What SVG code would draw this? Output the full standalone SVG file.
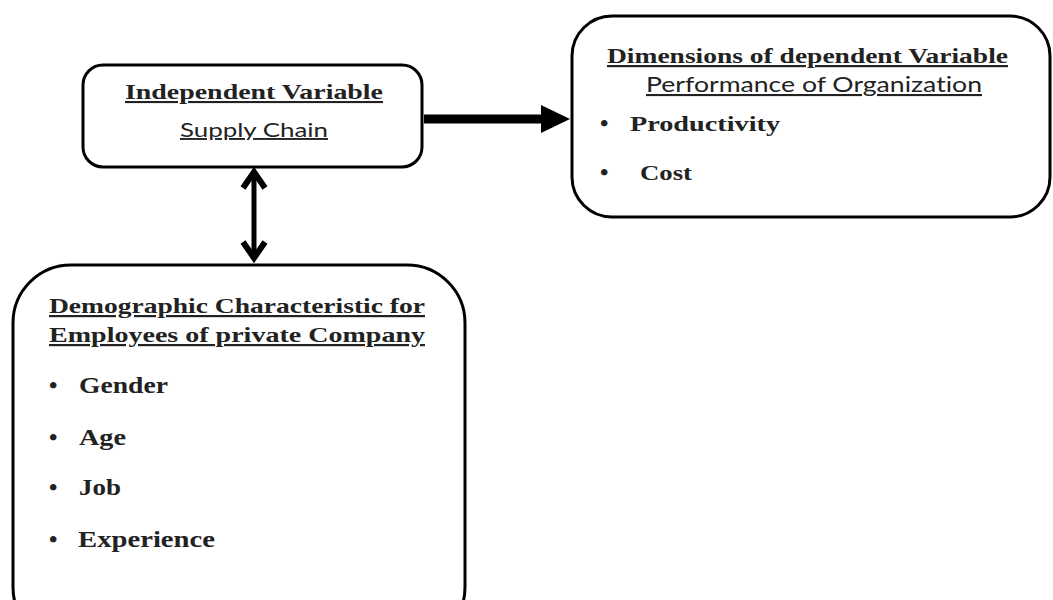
<svg xmlns="http://www.w3.org/2000/svg" width="1053" height="600" viewBox="0 0 1053 600">
<style>
.box{fill:#fff;stroke:#000;stroke-width:3}
text{font-variant-ligatures:none}
.hd{font-family:"Liberation Serif",serif;font-weight:bold;fill:#222;text-decoration:underline}
.sub{font-family:Lato,"Liberation Sans",sans-serif;fill:#222;text-decoration:underline}
.it{font-family:"Liberation Serif",serif;font-weight:bold;fill:#222}
.bl{font-family:"Liberation Serif",serif;font-weight:bold;fill:#222;font-size:24px}
.con{stroke:#000;fill:none}
</style>
<rect width="1053" height="600" fill="#fff"/>
<g id="connectors">
<line class="con" x1="424" y1="119" x2="546" y2="119" stroke-width="9"/>
<polygon points="541,105 570,119 541,133" fill="#000"/>
<line class="con" x1="254" y1="172" x2="254" y2="258" stroke-width="5"/>
<polyline class="con" points="243,188 254,172 265,188" stroke-width="6"/>
<polyline class="con" points="243,242 254,258 265,242" stroke-width="6"/>
</g>
<g id="independent">
<rect class="box" x="83" y="65" width="339" height="102" rx="20"/>
<text class="hd" x="125" y="99" font-size="21" textLength="258" lengthAdjust="spacingAndGlyphs">Independent Variable</text>
<text class="sub" x="180" y="137" font-size="19" textLength="148" lengthAdjust="spacingAndGlyphs">Supply Chain</text>
</g>
<g id="dependent">
<rect class="box" x="572" y="16" width="478" height="201" rx="40"/>
<text class="hd" x="607" y="63" font-size="22" textLength="401" lengthAdjust="spacingAndGlyphs">Dimensions of dependent Variable</text>
<text class="sub" x="646" y="92" font-size="21" textLength="336" lengthAdjust="spacingAndGlyphs">Performance of Organization</text>
<text class="bl" x="600" y="131">•</text>
<text class="it" x="630" y="131" font-size="22" textLength="150" lengthAdjust="spacingAndGlyphs">Productivity</text>
<text class="bl" x="600" y="180">•</text>
<text class="it" x="640" y="180" font-size="22" textLength="52" lengthAdjust="spacingAndGlyphs">Cost</text>
</g>
<g id="demographic">
<rect class="box" x="13" y="265" width="452" height="380" rx="58"/>
<text class="hd" x="49" y="313" font-size="22" textLength="376" lengthAdjust="spacingAndGlyphs">Demographic Characteristic for</text>
<text class="hd" x="49" y="342" font-size="22" textLength="376" lengthAdjust="spacingAndGlyphs">Employees of private Company</text>
<text class="bl" x="49" y="393">•</text>
<text class="it" x="79" y="393" font-size="23" textLength="89" lengthAdjust="spacingAndGlyphs">Gender</text>
<text class="bl" x="49" y="445">•</text>
<text class="it" x="79" y="445" font-size="23" textLength="47" lengthAdjust="spacingAndGlyphs">Age</text>
<text class="bl" x="49" y="495">•</text>
<text class="it" x="79" y="495" font-size="23" textLength="42" lengthAdjust="spacingAndGlyphs">Job</text>
<text class="bl" x="49" y="547">•</text>
<text class="it" x="78" y="547" font-size="23" textLength="137" lengthAdjust="spacingAndGlyphs">Experience</text>
</g>
</svg>
